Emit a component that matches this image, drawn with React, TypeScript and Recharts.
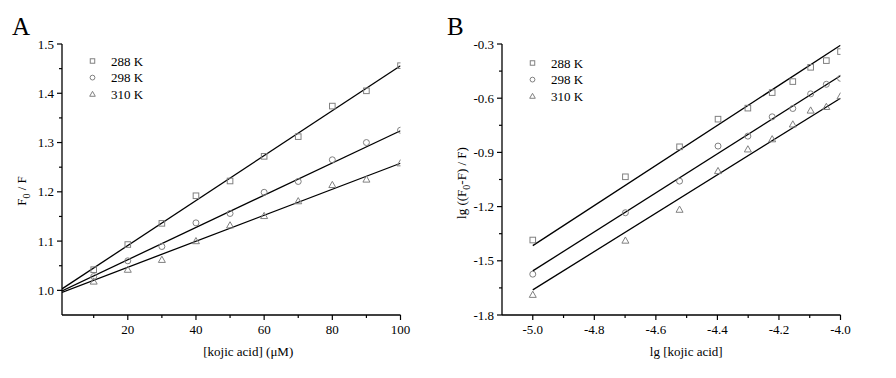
import { ScatterChart, Scatter, XAxis, YAxis } from 'recharts'

const seriesNames = ['288 K', '298 K', '310 K']

// panel A: F0/F vs [kojic acid]
const kojicConc = [10, 20, 30, 40, 50, 60, 70, 80, 90, 100]
const ratio288 = [1.042, 1.093, 1.136, 1.192, 1.222, 1.272, 1.312, 1.374, 1.405, 1.456]
const ratio298 = [1.028, 1.06, 1.089, 1.137, 1.156, 1.199, 1.221, 1.265, 1.3, 1.325]
const ratio310 = [1.018, 1.042, 1.062, 1.1, 1.132, 1.151, 1.181, 1.214, 1.225, 1.258]
// fitted lines, value at each end of fitRangeA
const fitRangeA = [0.7, 100]
const fitA288 = [1.003, 1.456]
const fitA298 = [0.999, 1.324]
const fitA310 = [0.996, 1.258]

// panel B: lg((F0-F)/F) vs lg[kojic acid]
const lgKojic = [-5.0, -4.699, -4.523, -4.398, -4.301, -4.222, -4.155, -4.097, -4.046, -4.0]
const lg288 = [-1.385, -1.035, -0.869, -0.716, -0.655, -0.569, -0.508, -0.429, -0.392, -0.342]
const lg298 = [-1.574, -1.234, -1.059, -0.865, -0.81, -0.703, -0.657, -0.576, -0.523, -0.49]
const lg310 = [-1.688, -1.388, -1.217, -1.003, -0.883, -0.827, -0.745, -0.668, -0.648, -0.589]
const fitRangeB = [-5.0, -4.0]
const fitB288 = [-1.416, -0.307]
const fitB298 = [-1.556, -0.476]
const fitB310 = [-1.661, -0.6]

const aXMajor = [20, 40, 60, 80, 100]
const aXMinor = [10, 30, 50, 70, 90]
const aYMajor = [1.0, 1.1, 1.2, 1.3, 1.4, 1.5]
const aYMinor = [1.05, 1.15, 1.25, 1.35, 1.45]
const bXMajor = [-5.0, -4.8, -4.6, -4.4, -4.2, -4.0]
const bXMinor = [-4.9, -4.7, -4.5, -4.3, -4.1]
const bYMajor = [-1.8, -1.5, -1.2, -0.9, -0.6, -0.3]
const bYMinor = [-1.65, -1.35, -1.05, -0.75, -0.45]

const FONT = "'Liberation Serif', 'Times New Roman', serif"
const GRAY = '#808080'
const H = 378

function Marker({ kind, cx, cy, s = 1 }: { kind: number; cx: number; cy: number; s?: number }) {
  if (kind === 0)
    return (
      <rect x={cx - 2.8 * s} y={cy - 2.8 * s} width={5.6 * s} height={5.6 * s} fill="none" stroke={GRAY} />
    )
  if (kind === 1) return <circle cx={cx} cy={cy} r={3 * s} fill="none" stroke={GRAY} />
  return (
    <path
      d={`M${cx},${cy - 3.6 * s} L${cx + 3.5 * s},${cy + 2.6 * s} L${cx - 3.5 * s},${cy + 2.6 * s} Z`}
      fill="none"
      stroke={GRAY}
    />
  )
}

const isIn = (arr: number[], v: number) => arr.some((m) => Math.abs(m - v) < 1e-9)

const yTick = (majors: number[], digits: number) => (props: any) => {
  const { x, y, payload } = props
  const major = isIn(majors, payload.value)
  return (
    <g>
      <line x1={x} x2={x - (major ? 5 : 3)} y1={y} y2={y} stroke="#000" strokeWidth={1.2} />
      {major && (
        <text x={x - 8} y={y + 4.5} textAnchor="end" fontSize={13} fontFamily={FONT} fill="#000">
          {payload.value.toFixed(digits)}
        </text>
      )}
    </g>
  )
}

const xTick = (majors: number[], digits: number) => (props: any) => {
  const { x, y, payload } = props
  const major = isIn(majors, payload.value)
  return (
    <g>
      <line x1={x} x2={x} y1={y} y2={y + (major ? 5 : 3)} stroke="#000" strokeWidth={1.2} />
      {major && (
        <text x={x} y={y + 19} textAnchor="middle" fontSize={13} fontFamily={FONT} fill="#000">
          {payload.value.toFixed(digits)}
        </text>
      )}
    </g>
  )
}

interface PanelProps {
  left: number
  width: number
  letter: string
  xs: number[]
  series: number[][]
  fits: number[][]
  fitRange: number[]
  xDomain: [number, number]
  yDomain: [number, number]
  xMajor: number[]
  xMinor: number[]
  yMajor: number[]
  yMinor: number[]
  xDigits: number
  yDigits: number
  xTitle: string
  xTitleShift: number
  yTitle: (x: number, y: number) => any
  yTitleX: number
  yTitleY: number
  legendTop: number
}

function Panel(p: PanelProps) {
  const plotLeft = 62
  const plotRight = 400.5
  return (
    <div style={{ position: 'absolute', left: p.left, top: 0, width: p.width, height: H }}>
      <ScatterChart
        width={p.width}
        height={H}
        margin={{ top: 44, right: p.width - plotRight, bottom: 13, left: 10 }}
      >
        <XAxis
          type="number"
          dataKey="x"
          domain={p.xDomain}
          ticks={[...p.xMajor, ...p.xMinor].sort((a, b) => a - b)}
          interval={0}
          tickSize={0}
          tickMargin={0}
          tickLine={false}
          tick={xTick(p.xMajor, p.xDigits)}
          height={50}
          stroke="#000"
          strokeWidth={1.3}
          allowDataOverflow
          label={{
            content: (lp: any) => {
              const vb = lp.viewBox
              return (
                <text
                  x={vb.x + vb.width / 2 + p.xTitleShift}
                  y={356}
                  textAnchor="middle"
                  fontSize={13}
                  fontFamily={FONT}
                  fill="#000"
                >
                  {p.xTitle}
                </text>
              )
            },
          }}
        />
        <YAxis
          type="number"
          dataKey="y"
          domain={p.yDomain}
          ticks={[...p.yMajor, ...p.yMinor].sort((a, b) => a - b)}
          interval={0}
          tickSize={0}
          tickMargin={0}
          tickLine={false}
          tick={yTick(p.yMajor, p.yDigits)}
          width={plotLeft - 10}
          stroke="#000"
          strokeWidth={1.3}
          allowDataOverflow
          label={{ content: () => p.yTitle(p.yTitleX, p.yTitleY) }}
        />
        {p.fits.map((vals, k) => (
          <Scatter
            key={`fit${k}`}
            data={p.fitRange.map((x, i) => ({ x, y: vals[i] }))}
            line={{ stroke: '#000', strokeWidth: 1.3 }}
            stroke="#000"
            fill="#000"
            shape={() => <g />}
            isAnimationActive={false}
          />
        ))}
        {p.series.map((ys, k) => (
          <Scatter
            key={`pts${k}`}
            name={seriesNames[k]}
            data={p.xs.map((x, i) => ({ x, y: ys[i] }))}
            shape={(sp: any) => <Marker kind={k} cx={sp.cx} cy={sp.cy} />}
            isAnimationActive={false}
          />
        ))}
      </ScatterChart>
      <div
        style={{
          position: 'absolute',
          left: p.left === 0 ? 12 : 7,
          top: 12,
          fontFamily: FONT,
          fontSize: 25,
          lineHeight: '30px',
        }}
      >
        {p.letter}
      </div>
      <svg style={{ position: 'absolute', left: 80, top: p.legendTop - 10 }} width={90} height={56}>
        {seriesNames.map((name, k) => {
          const cy = 10 + k * 16.6
          return (
            <g key={name}>
              <Marker kind={k} cx={12.5} cy={cy} s={0.8} />
              <text x={31} y={cy + 4.5} fontSize={13} fontFamily={FONT} fill="#000">
                {name}
              </text>
            </g>
          )
        })}
      </svg>
    </div>
  )
}

const titleA = (x: number, y: number) => (
  <text
    x={x}
    y={y}
    transform={`rotate(-90, ${x}, ${y})`}
    textAnchor="middle"
    fontSize={13}
    fontFamily={FONT}
    fill="#000"
  >
    F
    <tspan fontSize={10} dy={4}>
      0
    </tspan>
    <tspan dy={-4}> / F</tspan>
  </text>
)

const titleB = (x: number, y: number) => (
  <text
    x={x}
    y={y}
    transform={`rotate(-90, ${x}, ${y})`}
    textAnchor="middle"
    fontSize={13}
    fontFamily={FONT}
    fill="#000"
  >
    lg ((F
    <tspan fontSize={10} dy={4}>
      0
    </tspan>
    <tspan dy={-4}>-F) / F)</tspan>
  </text>
)

export default function App() {
  return (
    <div style={{ position: 'absolute', left: 0, top: 0, width: 896, height: H, background: '#fff' }}>
      <Panel
        left={0}
        width={440}
        letter="A"
        xs={kojicConc}
        series={[ratio288, ratio298, ratio310]}
        fits={[fitA288, fitA298, fitA310]}
        fitRange={fitRangeA}
        xDomain={[0.7, 100]}
        yDomain={[0.95, 1.5]}
        xMajor={aXMajor}
        xMinor={aXMinor}
        yMajor={aYMajor}
        yMinor={aYMinor}
        xDigits={0}
        yDigits={1}
        xTitle="[kojic acid] (μM)"
        xTitleShift={17}
        yTitle={titleA}
        yTitleX={26}
        yTitleY={191}
        legendTop={61}
      />
      <Panel
        left={440}
        width={456}
        letter="B"
        xs={lgKojic}
        series={[lg288, lg298, lg310]}
        fits={[fitB288, fitB298, fitB310]}
        fitRange={fitRangeB}
        xDomain={[-5.1, -4.0]}
        yDomain={[-1.8, -0.3]}
        xMajor={bXMajor}
        xMinor={bXMinor}
        yMajor={bYMajor}
        yMinor={bYMinor}
        xDigits={1}
        yDigits={1}
        xTitle="lg [kojic acid]"
        xTitleShift={15}
        yTitle={titleB}
        yTitleX={26}
        yTitleY={183}
        legendTop={63}
      />
    </div>
  )
}
